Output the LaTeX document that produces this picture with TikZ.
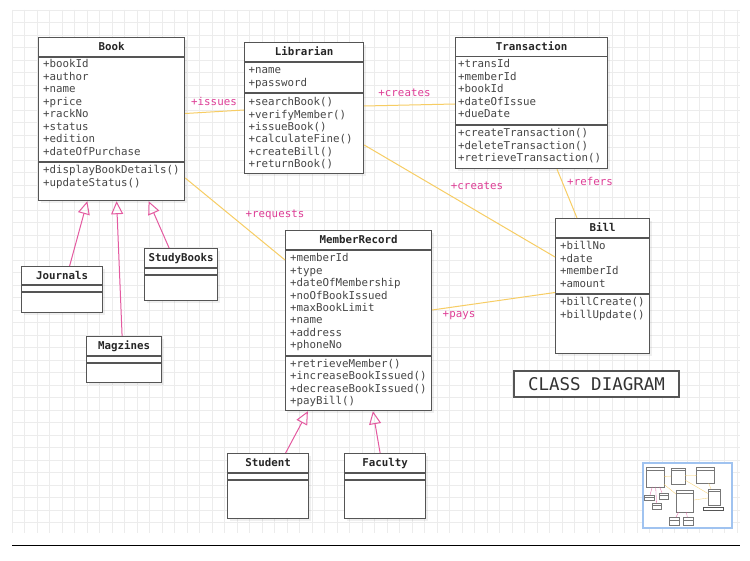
\documentclass[tikz,border=0pt]{standalone}
\usepackage{fontspec}
\setmonofont{DejaVu Sans Mono}
\usetikzlibrary{arrows.meta,shadows}

\definecolor{boxgray}{RGB}{85,85,85}
\definecolor{textgray}{RGB}{70,70,70}
\definecolor{assocgold}{RGB}{247,205,100}
\definecolor{rolepink}{RGB}{222,62,150}
\definecolor{genpink}{RGB}{228,90,160}
\definecolor{gridgray}{RGB}{236,236,236}
\definecolor{mapblue}{RGB}{160,195,240}

\newcommand\umltext{\ttfamily\fontsize{10.8}{12.5}\selectfont}

\tikzset{
  classbox/.style={draw=boxgray, line width=1.2pt, fill=white, anchor=north west,
    inner sep=0pt, drop shadow={shadow xshift=2pt, shadow yshift=-2pt, opacity=0.12}},
  classline/.style={draw=boxgray, line width=1.2pt},
  classname/.style={font=\umltext\bfseries, text=black!85, anchor=base, inner sep=0pt},
  member/.style={font=\umltext, text=textgray, anchor=base west, inner sep=0pt},
  assoc/.style={draw=assocgold, line width=1pt},
  rolename/.style={font=\umltext, text=rolepink, inner sep=0pt},
  inherits/.style={draw=genpink, line width=1pt, -{Triangle[open, length=13pt, width=12pt]}},
  gridline/.style={draw=gridgray, line width=0.5pt},
}

\begin{document}
\begin{tikzpicture}[x=1pt,y=-1pt]
\useasboundingbox (0,0) rectangle (750,561);
\fill[white] (0,0) rectangle (750,561);

% grid
\foreach \gx in {0,...,58}
  \draw[gridline] (12+12.5*\gx,10) -- (12+12.5*\gx,533);
\foreach \gy in {0,...,41}
  \draw[gridline] (12,10+12.5*\gy) -- (740,10+12.5*\gy);

% Book
\node[classbox, minimum width=146, minimum height=163] (book) at (38,37) {};
\node[classname] (book-name) at ([shift={(0,14)}]book.north) {Book};
\draw[classline] ([shift={(0,20)}]book.north west) -- ([shift={(0,20)}]book.north east);
\draw[classline] ([shift={(0,125)}]book.north west) -- ([shift={(0,125)}]book.north east);
\foreach \m [count=\i from 0] in {+bookId,+author,+name,+price,+rackNo,+status,+edition,+dateOfPurchase}
  \node[member] (book-a\i) at ([shift={(5,31+12.5*\i)}]book.north west) {\m};
\foreach \m [count=\i from 0] in {+displayBookDetails(),+updateStatus()}
  \node[member] (book-m\i) at ([shift={(5,137+12.5*\i)}]book.north west) {\m};

% Librarian
\node[classbox, minimum width=119, minimum height=131] (librarian) at (244,42) {};
\node[classname] (librarian-name) at ([shift={(0,14)}]librarian.north) {Librarian};
\draw[classline] ([shift={(0,20)}]librarian.north west) -- ([shift={(0,20)}]librarian.north east);
\draw[classline] ([shift={(0,51)}]librarian.north west) -- ([shift={(0,51)}]librarian.north east);
\foreach \m [count=\i from 0] in {+name,+password}
  \node[member] (librarian-a\i) at ([shift={(4.5,32+12.5*\i)}]librarian.north west) {\m};
\foreach \m [count=\i from 0] in {+searchBook(),+verifyMember(),+issueBook(),+calculateFine(),+createBill(),+returnBook()}
  \node[member] (librarian-m\i) at ([shift={(4.5,64+12.3*\i)}]librarian.north west) {\m};

% Transaction
\node[classbox, minimum width=152, minimum height=131] (transaction) at (455,37) {};
\node[classname] (transaction-name) at ([shift={(0,14)}]transaction.north) {Transaction};
\draw[classline] ([shift={(0,19.5)}]transaction.north west) -- ([shift={(0,19.5)}]transaction.north east);
\draw[classline] ([shift={(0,88)}]transaction.north west) -- ([shift={(0,88)}]transaction.north east);
\foreach \m [count=\i from 0] in {+transId,+memberId,+bookId,+dateOfIssue,+dueDate}
  \node[member] (transaction-a\i) at ([shift={(3,31+12.5*\i)}]transaction.north west) {\m};
\foreach \m [count=\i from 0] in {+createTransaction(),+deleteTransaction(),+retrieveTransaction()}
  \node[member] (transaction-m\i) at ([shift={(3,99.7+12.5*\i)}]transaction.north west) {\m};

% MemberRecord
\node[classbox, minimum width=146, minimum height=180] (memberrecord) at (285,230) {};
\node[classname] (memberrecord-name) at ([shift={(0,14)}]memberrecord.north) {MemberRecord};
\draw[classline] ([shift={(0,20)}]memberrecord.north west) -- ([shift={(0,20)}]memberrecord.north east);
\draw[classline] ([shift={(0,126)}]memberrecord.north west) -- ([shift={(0,126)}]memberrecord.north east);
\foreach \m [count=\i from 0] in {+memberId,+type,+dateOfMembership,+noOfBookIssued,+maxBookLimit,+name,+address,+phoneNo}
  \node[member] (memberrecord-a\i) at ([shift={(5,32+12.4*\i)}]memberrecord.north west) {\m};
\foreach \m [count=\i from 0] in {+retrieveMember(),+increaseBookIssued(),+decreaseBookIssued(),+payBill()}
  \node[member] (memberrecord-m\i) at ([shift={(5,137+12.5*\i)}]memberrecord.north west) {\m};

% Bill
\node[classbox, minimum width=94, minimum height=135] (bill) at (555,218) {};
\node[classname] (bill-name) at ([shift={(0,14)}]bill.north) {Bill};
\draw[classline] ([shift={(0,20)}]bill.north west) -- ([shift={(0,20)}]bill.north east);
\draw[classline] ([shift={(0,76)}]bill.north west) -- ([shift={(0,76)}]bill.north east);
\foreach \m [count=\i from 0] in {+billNo,+date,+memberId,+amount}
  \node[member] (bill-a\i) at ([shift={(5,32+12.5*\i)}]bill.north west) {\m};
\foreach \m [count=\i from 0] in {+billCreate(),+billUpdate()}
  \node[member] (bill-m\i) at ([shift={(5,88+12.8*\i)}]bill.north west) {\m};

% subclasses with empty compartments
\foreach \n/\t/\px/\py/\w/\h/\la/\lb in {
    journals/Journals/21/266/81/46/19/26,
    studybooks/StudyBooks/144/248/73/52/20/27,
    magzines/Magzines/86/336/75/46/20/27,
    student/Student/227/453/81/65/20/27,
    faculty/Faculty/344/453/81/65/20/27} {
  \node[classbox, minimum width=\w, minimum height=\h] (\n) at (\px,\py) {};
  \node[classname] (\n-name) at ([shift={(0,13.5)}]\n.north) {\t};
  \draw[classline] ([shift={(0,\la)}]\n.north west) -- ([shift={(0,\la)}]\n.north east);
  \draw[classline] ([shift={(0,\lb)}]\n.north west) -- ([shift={(0,\lb)}]\n.north east);
}

% generalisations
\draw[inherits] ([shift={(7.5,0)}]journals.north) -- ([shift={(-24.3,0)}]book.south);
\draw[inherits] ([shift={(-2,0)}]magzines.north) -- ([shift={(5,0)}]book.south);
\draw[inherits] ([shift={(-12,0)}]studybooks.north) -- ([shift={(37,0)}]book.south);
\draw[inherits] ([shift={(17.5,0)}]student.north) -- ([shift={(-50.7,0)}]memberrecord.south);
\draw[inherits] ([shift={(-5,0)}]faculty.north) -- ([shift={(14.3,0)}]memberrecord.south);

% associations
\draw[assoc] ([shift={(0,76.5)}]book.north east) -- ([shift={(0,68)}]librarian.north west);
\draw[assoc] ([shift={(0,64)}]librarian.north east) -- ([shift={(0,67)}]transaction.north west);
\draw[assoc] ([shift={(0,103)}]librarian.north east) -- ([shift={(0,39)}]bill.north west);
\draw[assoc] ([shift={(102,0)}]transaction.south west) -- ([shift={(22,0)}]bill.north west);
\draw[assoc] ([shift={(0,141)}]book.north east) -- ([shift={(0,30)}]memberrecord.north west);
\draw[assoc] ([shift={(0,80)}]memberrecord.north east) -- ([shift={(0,74.5)}]bill.north west);

\node[rolename] (issues) at (214,101) {+issues};
\node[rolename] (creates-t) at (404.5,93) {+creates};
\node[rolename] (creates-b) at (477,186) {+creates};
\node[rolename] (refers) at (590,181) {+refers};
\node[rolename] (requests) at (275,215) {+requests};
\node[rolename] (pays) at (459,316) {+pays};

% heading
\node[draw=boxgray, line width=1.4pt, fill=white, minimum width=165, minimum height=26,
  inner sep=0pt, font=\ttfamily\fontsize{17.5}{20}\selectfont, text=black!80] (heading) at (596.5,384) {CLASS DIAGRAM};

% overview map
\node[draw=mapblue, line width=1.6pt, fill=white, minimum width=89, minimum height=65,
  anchor=north west, inner sep=0pt, drop shadow={shadow xshift=1pt, shadow yshift=-1pt, opacity=0.1}] (minimap) at (642,462) {};
\begin{scope}[shift={(641.8,462.9)}, scale=0.12, line width=0.3pt]
  \foreach \a/\b/\c/\d in {38/37/184/200, 244/42/363/173, 455/37/607/168, 285/230/431/410,
      555/218/649/353, 21/266/102/312, 144/248/217/300, 86/336/161/382, 227/453/308/518, 344/453/425/518}
    \draw[boxgray!80] (\a,\b) rectangle (\c,\d) (\a,\b+20) -- (\c,\b+20);
  \draw[boxgray, line width=0.6pt] (514,371) rectangle (679,397);
  \draw[assocgold] (184,113) -- (244,110) (363,106) -- (455,104) (363,145) -- (555,257)
    (557,168) -- (577,218) (184,178) -- (285,260) (431,310) -- (555,292);
  \draw[genpink] (69,266) -- (87,200) (122,336) -- (116,200) (168,248) -- (148,200)
    (285,453) -- (307,410) (379,453) -- (372,410);
\end{scope}

% bottom rule
\draw[line width=1pt] (12,545) -- (740,545);
\end{tikzpicture}
\end{document}
